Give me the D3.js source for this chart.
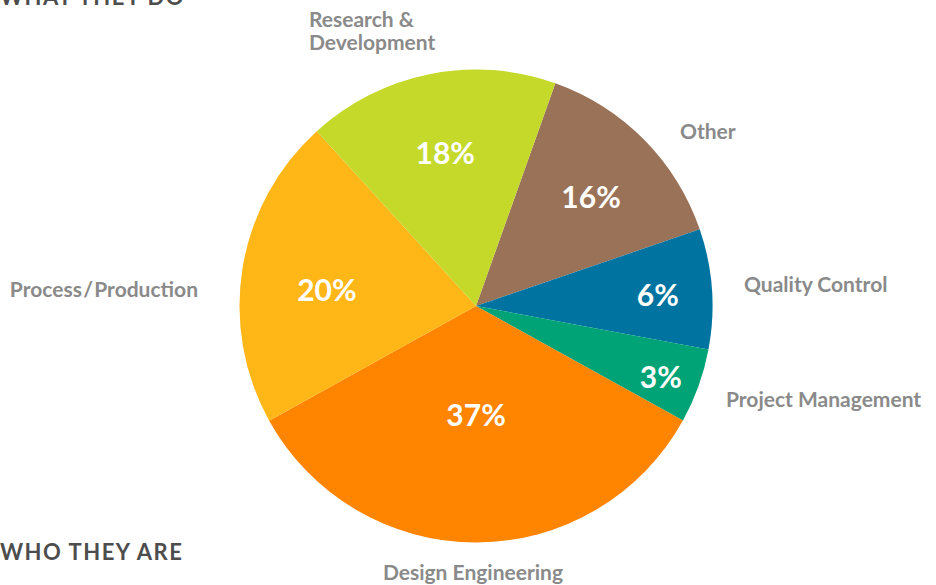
<!DOCTYPE html>
<html>
<head>
<meta charset="utf-8">
<script src="https://cdn.jsdelivr.net/npm/d3@7"></script>
<style>
  body { margin: 0; background: #fff; }
  svg { display: block; }
  text { font-family: Lato, "Open Sans", sans-serif; }
</style>
</head>
<body>
<div id="chart"></div>
<script>
//slice order, clockwise from the top
var categories = ["Other", "Quality Control", "Project Management", "Design Engineering", "Process/Production", "Research & Development"];
//share of the circle each slice takes in the picture (in %)
var shares = [14.3, 8.2, 5.1, 33.9, 21.3, 17.2];
//the printed percentages
var pctLabels = ["16%", "6%", "3%", "37%", "20%", "18%"];
var colors = ["#9a7257", "#0073a0", "#00a376", "#ff8400", "#ffb617", "#c5d92a"];

var width = 936,
    height = 585;

var cx = 476,
    cy = 306,
    radius = 236.5;

//where the pie begins (degrees from the top)
var startDeg = 19.6;

var svg = d3.select("#chart").append("svg")
    .attr("width", width)
    .attr("height", height);

var pie = d3.pie()
    .sort(null)
    .value(function (d) { return d; })
    .startAngle(startDeg * Math.PI / 180)
    .endAngle((startDeg + 360) * Math.PI / 180);

var arc = d3.arc()
    .innerRadius(0)
    .outerRadius(radius);

var arcs = pie(shares);

var g = svg.append("g")
    .attr("transform", "translate(" + cx + "," + cy + ")");

///////////////////////////////////////////////////////////////////////////
///////////////////////////// Draw slices /////////////////////////////////
///////////////////////////////////////////////////////////////////////////

g.selectAll(".slice")
    .data(arcs)
    .enter().append("path")
    .attr("class", "slice")
    .attr("d", arc)
    .style("fill", function (d, i) { return colors[i]; });

//percentage labels: radius factor and angle nudge (deg) for each slice
var pctRadius = [0.67, 0.77, 0.837, 0.46, 0.634, 0.66];
var pctNudge = [1.2, 0.6, 1.2, 0, -3.3, 0];

g.selectAll(".pct")
    .data(arcs)
    .enter().append("text")
    .attr("class", "pct")
    .attr("transform", function (d, i) {
        var a = (d.startAngle + d.endAngle) / 2 + pctNudge[i] * Math.PI / 180;
        var r = radius * pctRadius[i];
        return "translate(" + (Math.sin(a) * r) + "," + (-Math.cos(a) * r) + ")";
    })
    .attr("text-anchor", "middle")
    .attr("dy", "0.36em")
    .style("fill", "#fff")
    .style("font-size", "30px")
    .style("font-weight", 700)
    .text(function (d, i) { return pctLabels[i]; });

///////////////////////////////////////////////////////////////////////////
///////////////////////////// Outside labels //////////////////////////////
///////////////////////////////////////////////////////////////////////////

//x, y, anchor of each category name
var labelSpots = [
    [680, 132, "start"],
    [744, 285, "start"],
    [726, 400, "start"],
    [473, 573, "middle"],
    [198, 290, "end"],
    [309, 20, "start"]
];

var names = svg.selectAll(".name")
    .data(categories)
    .enter().append("text")
    .attr("class", "name")
    .attr("x", function (d, i) { return labelSpots[i][0]; })
    .attr("y", function (d, i) { return labelSpots[i][1]; })
    .attr("dy", "0.35em")
    .attr("text-anchor", function (d, i) { return labelSpots[i][2]; })
    .style("fill", "#8a8a8a")
    .style("font-size", "21px")
    .style("font-weight", 700);

names.each(function (d) {
    var t = d3.select(this);
    if (d === "Research & Development") {
        t.append("tspan").attr("x", t.attr("x")).text("Research &");
        t.append("tspan").attr("x", t.attr("x")).attr("dy", "1.1em").text("Development");
    } else if (d === "Process/Production") {
        t.text("Process\u200a/\u200aProduction");
    } else {
        t.text(d);
    }
});

//section headings
svg.append("text")
    .attr("x", 0)
    .attr("y", 5)
    .style("fill", "#4d4d4d")
    .style("font-size", "22px")
    .style("font-weight", 700)
    .style("letter-spacing", "1.5px")
    .text("WHAT THEY DO");

svg.append("text")
    .attr("x", 0)
    .attr("y", 560)
    .style("fill", "#4d4d4d")
    .style("font-size", "22px")
    .style("font-weight", 700)
    .style("letter-spacing", "1.5px")
    .text("WHO THEY ARE");
</script>
</body>
</html>
